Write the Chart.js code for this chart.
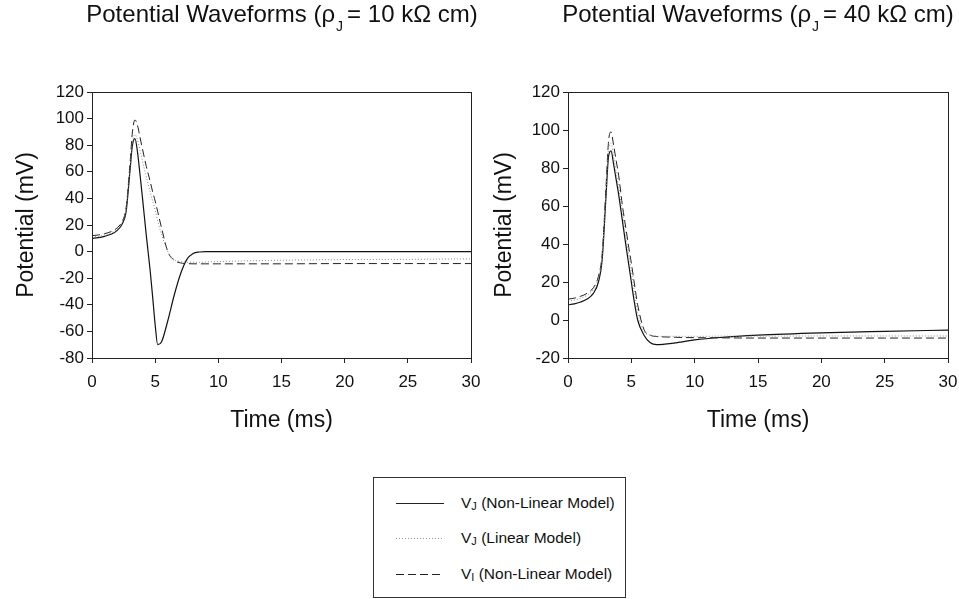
<!DOCTYPE html>
<html>
<head>
<meta charset="utf-8">
<script src="https://cdn.jsdelivr.net/npm/chart.js@4.4.0/dist/chart.umd.min.js"></script>
<style>
  body { margin: 0; background: #fff; font-family: "Liberation Sans", Arial, sans-serif; color: #111; }
  #page { position: relative; width: 959px; height: 599px; overflow: hidden; }
  canvas { position: absolute; top: 0; }
  .title { position: absolute; top: 1px; font-size: 24px; line-height: 26px; white-space: nowrap; transform: translateX(-50%); }
  .title sub { font-size: 14px; vertical-align: -9px; margin: 0 4px 0 1px; }
  #legend { position: absolute; left: 373px; top: 477px; width: 251px; height: 119px; border: 1px solid #333; }
  .row { position: absolute; left: 0; height: 20px; font-size: 15.5px; line-height: 20px; white-space: nowrap; }
  .row svg { position: absolute; left: 22px; top: 9px; }
  .row span { position: absolute; left: 87px; top: 0; }
  .row sub { font-size: 11px; vertical-align: -2px; }
</style>
</head>
<body>
<div id="page">
  <canvas id="left" width="480" height="440" style="left:0px;width:480px;height:440px"></canvas>
  <canvas id="right" width="479" height="440" style="left:480px;width:479px;height:440px"></canvas>
  <div class="title" style="left:282px">Potential Waveforms (ρ<sub>J</sub>= 10 kΩ cm)</div>
  <div class="title" style="left:758px">Potential Waveforms (ρ<sub>J</sub>= 40 kΩ cm)</div>
  <div id="legend">
    <div class="row" style="top:15px">
      <svg width="48" height="3"><line x1="0" y1="1.5" x2="48" y2="1.5" stroke="#222" stroke-width="1"/></svg>
      <span>V<sub>J</sub> (Non-Linear Model)</span>
    </div>
    <div class="row" style="top:50px">
      <svg width="48" height="3"><line x1="0" y1="1.5" x2="48" y2="1.5" stroke="#999" stroke-width="1" stroke-dasharray="1,2"/></svg>
      <span>V<sub>J</sub> (Linear Model)</span>
    </div>
    <div class="row" style="top:86px">
      <svg width="48" height="3"><line x1="0" y1="1.5" x2="48" y2="1.5" stroke="#222" stroke-width="1" stroke-dasharray="8,4"/></svg>
      <span>V<sub>I</sub> (Non-Linear Model)</span>
    </div>
  </div>
</div>
<script>
// time samples (ms), shared by both panels
var time = [0, 0.5, 1, 1.5, 2, 2.4, 2.7, 3.0, 3.2, 3.4, 3.6, 3.8, 4.0, 4.3, 4.6, 4.8, 5.0, 5.2, 5.5, 6.0, 6.5, 7.0, 7.5, 8.0, 8.5, 9, 10, 12, 15, 20, 25, 30];

// rho_J = 10 kOhm cm
var vjNonLin10 = [10, 10.5, 11.5, 13, 16, 21, 30, 60, 80, 85, 75, 58, 40, 12, -14, -34, -55, -70, -68, -52, -33, -17, -6, -1.5, -0.3, 0, 0, 0, 0, 0, 0, 0];
var vjLin10    = [11, 11.5, 12.5, 14, 17, 22, 32, 62, 82, 88, 84, 76, 68, 56, 45, 38, 31, 23, 13, 0, -6, -7.5, -8, -8, -8, -7.8, -7.5, -7, -6.5, -6, -5.8, -5.5];
var viNonLin10 = [12, 12.5, 13.5, 15, 18, 23, 33, 65, 90, 99, 95, 86, 77, 64, 53, 45, 38, 30, 18, 0, -6.5, -8.5, -9, -9.2, -9.2, -9.2, -9.2, -9.2, -9.2, -9, -9, -9];

// rho_J = 40 kOhm cm
var vjNonLin40 = [8, 8.5, 9.5, 11, 14, 20, 32, 65, 86, 89, 82, 74, 66, 52, 38, 29, 20, 11, 0, -8, -12, -13, -12.8, -12.4, -12, -11.5, -10.5, -9.2, -8, -6.8, -6, -5.3];
var vjLin40    = [10, 10.5, 11.5, 13, 16, 22, 34, 68, 90, 93, 86, 78, 70, 56, 43, 34, 26, 17, 4, -6, -8, -8.5, -8.6, -8.6, -8.6, -8.6, -8.6, -8.5, -8.5, -8.4, -8.4, -8.4];
var viNonLin40 = [11, 11.5, 12.5, 14, 17, 23, 35, 70, 94, 99, 92, 84, 76, 60, 47, 38, 30, 21, 8, -5, -8, -8.7, -8.9, -9, -9.1, -9.2, -9.3, -9.4, -9.5, -9.5, -9.5, -9.5];

var yTicks10 = { min: -80, max: 120, step: 20 };
var yTicks40 = { min: -20, max: 120, step: 20 };
var xTicks = { min: 0, max: 30, step: 5 };

var font = "'Liberation Sans', Arial, sans-serif";

function pts(ys) {
    return ys.map(function (y, i) { return { x: time[i], y: y }; });
}

// draws the closed box round the plot area
var frame = {
    id: 'frame',
    afterDraw: function (chart) {
        var a = chart.chartArea, c = chart.ctx;
        c.save();
        c.strokeStyle = '#222';
        c.lineWidth = 1;
        c.strokeRect(a.left + 0.5, a.top + 0.5, a.right - a.left, a.bottom - a.top);
        c.restore();
    }
};

function makeChart(id, series, yt, yWidth, padRight, titlePad) {
    var ctx = document.getElementById(id).getContext('2d');
    return new Chart(ctx, {
        type: 'line',
        data: {
            datasets: [
                {
                    label: 'VJ (Linear Model)',
                    data: pts(series[1]),
                    borderColor: '#8a8a8a',
                    borderWidth: 1,
                    borderDash: [1, 2],
                    pointRadius: 0,
                    cubicInterpolationMode: 'monotone'
                },
                {
                    label: 'VI (Non-Linear Model)',
                    data: pts(series[2]),
                    borderColor: '#222',
                    borderWidth: 1,
                    borderDash: [8, 4],
                    pointRadius: 0,
                    cubicInterpolationMode: 'monotone'
                },
                {
                    label: 'VJ (Non-Linear Model)',
                    data: pts(series[0]),
                    borderColor: '#111',
                    borderWidth: 1.2,
                    pointRadius: 0,
                    cubicInterpolationMode: 'monotone'
                }
            ]
        },
        options: {
            responsive: false,
            animation: false,
            layout: { padding: { top: 92, right: padRight, left: 0, bottom: 0 } },
            plugins: { legend: { display: false }, tooltip: { enabled: false } },
            scales: {
                x: {
                    type: 'linear',
                    min: xTicks.min,
                    max: xTicks.max,
                    afterFit: function (s) { s.height = 82; s.paddingLeft = 0; s.paddingRight = 0; },
                    ticks: { stepSize: xTicks.step, color: '#111', padding: 9, font: { family: font, size: 17 } },
                    grid: { display: true, drawOnChartArea: false, drawTicks: true, tickLength: 5, color: '#222' },
                    border: { display: true, color: '#222' },
                    title: { display: true, text: 'Time (ms)', color: '#111', padding: { top: 0, bottom: 6 }, font: { family: font, size: 23 } }
                },
                y: {
                    min: yt.min,
                    max: yt.max,
                    afterFit: function (s) { s.width = yWidth; s.paddingTop = 0; s.paddingBottom = 0; },
                    ticks: { stepSize: yt.step, color: '#111', padding: 3, font: { family: font, size: 17 } },
                    grid: { display: true, drawOnChartArea: false, drawTicks: true, tickLength: 5, color: '#222' },
                    border: { display: true, color: '#222' },
                    title: { display: true, text: 'Potential (mV)', color: '#111', padding: { top: titlePad, bottom: 0 }, font: { family: font, size: 23 } }
                }
            }
        },
        plugins: [frame]
    });
}

makeChart('left', [vjNonLin10, vjLin10, viNonLin10], yTicks10, 92, 9, 13);
makeChart('right', [vjNonLin40, vjLin40, viNonLin40], yTicks40, 88, 11, 11);
</script>
</body>
</html>
